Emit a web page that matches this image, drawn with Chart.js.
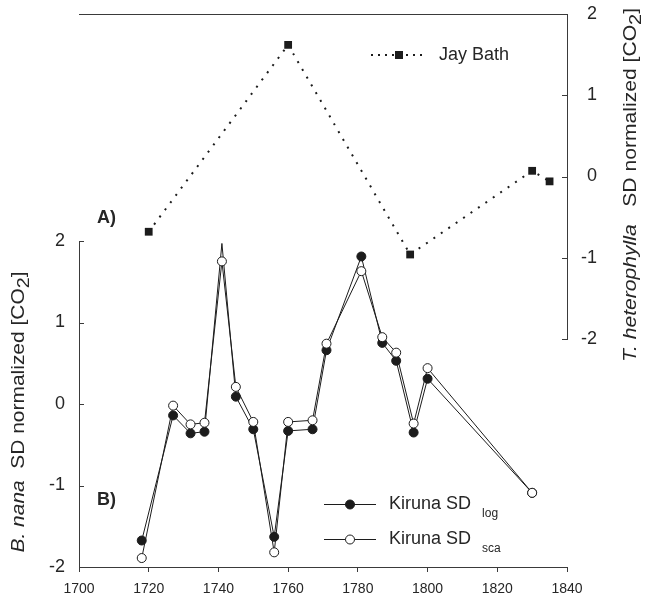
<!DOCTYPE html>
<html><head><meta charset="utf-8">
<script src="https://cdn.jsdelivr.net/npm/chart.js@4.4.1/dist/chart.umd.min.js"></script>
<style>
html,body{margin:0;padding:0;background:#fff;}
#wrap{position:relative;width:645px;height:596px;overflow:hidden;}
#wrap canvas{position:absolute;left:0;top:0;}
</style></head><body>
<div id="wrap"><canvas id="cB" width="645" height="596"></canvas><canvas id="cA" width="645" height="596"></canvas></div>
<script>
// ---- data ----
const kirunaYears = [1718, 1727, 1732, 1736, 1741, 1745, 1750, 1756, 1760, 1767, 1771, 1781, 1787, 1791, 1796, 1800, 1830];
const kirunaLog   = [-1.675, -0.14, -0.36, -0.34, 1.97, 0.09, -0.31, -1.63, -0.33, -0.31, 0.66, 1.81, 0.75, 0.53, -0.35, 0.31, -1.09];
const kirunaSca   = [-1.89, -0.02, -0.25, -0.23, 1.75, 0.21, -0.22, -1.82, -0.22, -0.20, 0.74, 1.63, 0.82, 0.63, -0.24, 0.44, -1.09];
const jayYears    = [1720, 1760, 1795, 1830, 1835];
const jayBath     = [-0.68, 1.62, -0.96, 0.07, -0.06];
const xTickValues = [1700, 1720, 1740, 1760, 1780, 1800, 1820, 1840];
const yTickValues = [-2, -1, 0, 1, 2];
const hiddenLogMarkerYears = [1741];

const FONT = "'Liberation Sans', Arial, Helvetica, sans-serif";
const INK = '#1c1c1c';
const AXIS = '#3a3a3a';
const TXT = '#262626';

function pts(xs, ys){ return xs.map((x,i)=>({x:x, y:ys[i]})); }
function setTicks(vals){ return function(scale){ scale.ticks = vals.map(v=>({value:v})); }; }

function drawRotTitle(ctx, cx, cy, parts, targetLen){
  ctx.save();
  ctx.translate(cx, cy);
  ctx.rotate(-Math.PI/2);
  let total = 0; const ws = [];
  parts.forEach(p=>{ ctx.font = p.font; const w = ctx.measureText(p.text).width; ws.push(w); total += w; });
  const s = targetLen/total;
  ctx.scale(s, 1);
  ctx.fillStyle = TXT; ctx.textBaseline = 'middle'; ctx.textAlign = 'left';
  let x = -total/2;
  parts.forEach((p,i)=>{ ctx.font = p.font; ctx.fillText(p.text, x, p.dy||0); x += ws[i]; });
  ctx.restore();
}

function inwardTicks(ctx, sc, dir){
  ctx.save();
  ctx.strokeStyle = AXIS; ctx.lineWidth = 1;
  sc.ticks.forEach(t=>{
    const y = Math.round(sc.getPixelForValue(t.value)) + 0.5;
    const x0 = dir > 0 ? sc.right : sc.left;
    ctx.beginPath(); ctx.moveTo(x0, y); ctx.lineTo(x0 + dir*5, y); ctx.stroke();
  });
  ctx.restore();
}

// ---- bottom chart (B) ----
const decorB = {
  id:'decorB',
  afterDraw(chart){
    const ctx = chart.ctx;
    inwardTicks(ctx, chart.scales.y, 1);
    // left axis title
    drawRotTitle(ctx, 19, 412, [
      {text:'B. nana', font:'italic 18px '+FONT},
      {text:'  SD normalized [CO', font:'18px '+FONT},
      {text:'2', font:'17px '+FONT, dy:5},
      {text:']', font:'18px '+FONT}
    ], 281);
    ctx.save();
    ctx.fillStyle = TXT; ctx.textBaseline='middle'; ctx.textAlign='left';
    ctx.font = 'bold 18px '+FONT;
    ctx.fillText('B)', 97, 500);
    // legend
    const rows = [{y:504, fill:INK, sub:'log'}, {y:539, fill:'#fff', sub:'sca'}];
    rows.forEach(r=>{
      ctx.strokeStyle = INK; ctx.lineWidth = 1;
      ctx.beginPath(); ctx.moveTo(324, r.y+0.5); ctx.lineTo(376, r.y+0.5); ctx.stroke();
      ctx.beginPath(); ctx.arc(350, r.y+0.5, 4.5, 0, Math.PI*2);
      ctx.fillStyle = r.fill; ctx.fill(); ctx.stroke();
      ctx.fillStyle = TXT; ctx.font = '18px '+FONT;
      ctx.fillText('Kiruna SD', 389, r.y);
      const w = ctx.measureText('Kiruna SD').width;
      ctx.font = '12px '+FONT;
      ctx.fillText(r.sub, 389 + w + 11, r.y + 10);
    });
    ctx.restore();
  }
};

new Chart(document.getElementById('cB'), {
  type:'line',
  data:{ datasets:[
    { label:'Kiruna SD log', data: pts(kirunaYears, kirunaLog), borderColor:INK, borderWidth:1,
      pointRadius: kirunaYears.map(y => hiddenLogMarkerYears.includes(y) ? 0 : 4.5),
      pointBackgroundColor:INK, pointBorderColor:INK, pointBorderWidth:1, tension:0, order:2 },
    { label:'Kiruna SD sca', data: pts(kirunaYears, kirunaSca), borderColor:INK, borderWidth:1,
      pointRadius:4.5, pointBackgroundColor:'#fff', pointBorderColor:INK, pointBorderWidth:1, tension:0, order:1 }
  ]},
  options:{
    responsive:false, animation:false, events:[],
    layout:{ padding:{ top:241, right:78, left:0, bottom:0 } },
    plugins:{ legend:{display:false}, tooltip:{enabled:false} },
    scales:{
      x:{ type:'linear', position:'bottom', min:1700, max:1840,
        afterBuildTicks: setTicks(xTickValues),
        afterFit(s){ s.height = 29; },
        grid:{ drawOnChartArea:false, tickLength:5, color:AXIS, tickColor:AXIS },
        border:{ display:true, color:AXIS, width:1 },
        ticks:{ color:TXT, font:{family:FONT, size:14}, padding:9, maxRotation:0, autoSkip:false,
                callback:(v)=>String(v) } },
      y:{ type:'linear', position:'left', min:-2, max:2,
        afterBuildTicks: setTicks(yTickValues),
        afterFit(s){ s.width = 79; },
        grid:{ display:false, drawTicks:false, tickLength:0 },
        border:{ display:true, color:AXIS, width:1 },
        ticks:{ color:TXT, font:{family:FONT, size:18}, padding:14 } }
    }
  },
  plugins:[decorB]
});

// ---- top chart (A) ----
const decorA = {
  id:'decorA',
  afterDraw(chart){
    const ctx = chart.ctx;
    inwardTicks(ctx, chart.scales.yA, -1);
    drawRotTitle(ctx, 631, 185, [
      {text:'T. heterophylla', font:'italic 18px '+FONT},
      {text:'   SD normalized [CO', font:'18px '+FONT},
      {text:'2', font:'17px '+FONT, dy:5},
      {text:']', font:'18px '+FONT}
    ], 354);
    ctx.save();
    ctx.fillStyle = TXT; ctx.textBaseline='middle'; ctx.textAlign='left';
    ctx.font = 'bold 18px '+FONT;
    ctx.fillText('A)', 97, 218);
    // legend
    ctx.strokeStyle = INK; ctx.lineWidth = 2; ctx.setLineDash([2,5]);
    ctx.beginPath(); ctx.moveTo(371, 55); ctx.lineTo(423, 55); ctx.stroke();
    ctx.setLineDash([]);
    ctx.fillStyle = INK; ctx.fillRect(395, 51, 8, 8);
    ctx.fillStyle = TXT; ctx.font = '18px '+FONT;
    ctx.fillText('Jay Bath', 439, 55);
    ctx.restore();
  }
};

new Chart(document.getElementById('cA'), {
  type:'line',
  data:{ datasets:[
    { label:'Jay Bath', data: pts(jayYears, jayBath), xAxisID:'xA', yAxisID:'yA',
      borderColor:INK, borderWidth:2, borderDash:[2,7], borderCapStyle:'butt',
      pointStyle:'rect', pointRadius:5.5, pointBackgroundColor:INK, pointBorderColor:INK, pointBorderWidth:0, tension:0 }
  ]},
  options:{
    responsive:false, animation:false, events:[],
    layout:{ padding:{ top:14, right:48, left:79, bottom:257 } },
    plugins:{ legend:{display:false}, tooltip:{enabled:false} },
    scales:{
      xA:{ type:'linear', position:'top', min:1700, max:1840,
        afterBuildTicks: setTicks(xTickValues),
        afterFit(s){ s.height = 0; },
        grid:{ display:false, drawTicks:false, tickLength:0 },
        border:{ display:true, color:AXIS, width:1 },
        ticks:{ display:false } },
      yA:{ type:'linear', position:'right', min:-2, max:2,
        afterBuildTicks: setTicks(yTickValues),
        afterFit(s){ s.width = 30; },
        grid:{ display:false, drawTicks:false, tickLength:0 },
        border:{ display:true, color:AXIS, width:1 },
        ticks:{ color:TXT, font:{family:FONT, size:18}, padding:0, crossAlign:'far' } }
    }
  },
  plugins:[decorA]
});
</script>
</body></html>
